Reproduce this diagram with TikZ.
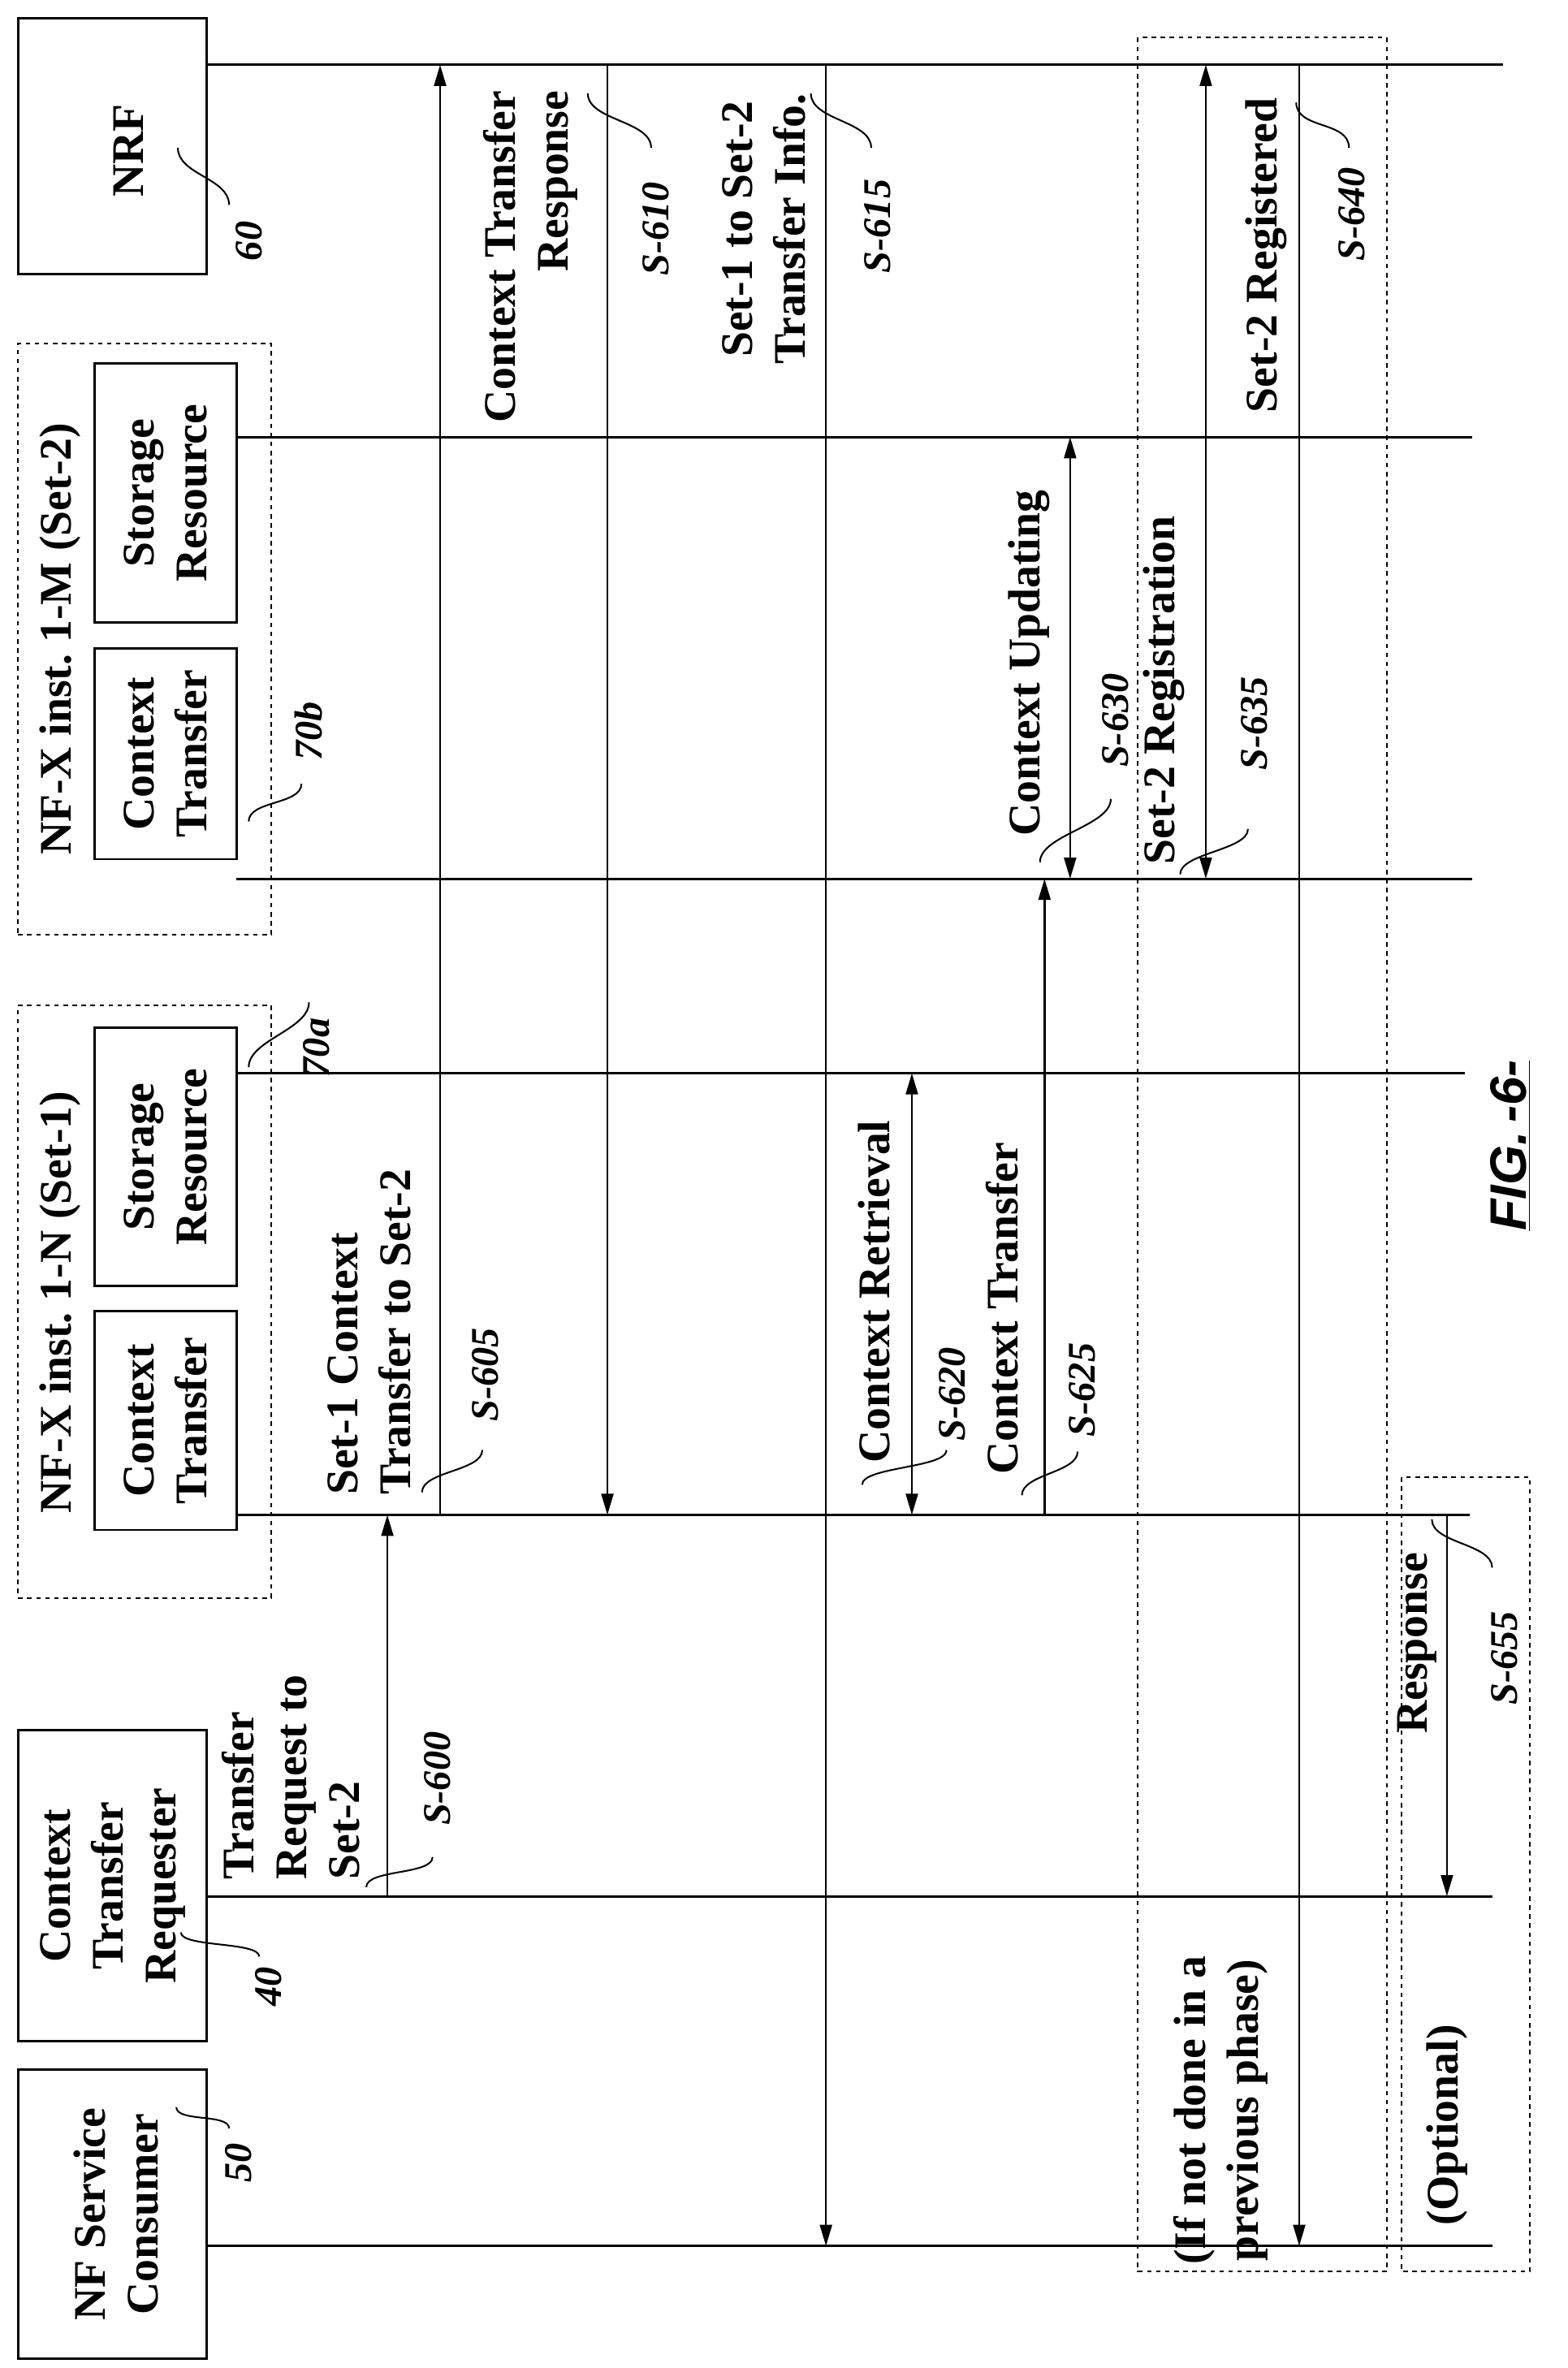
\documentclass[tikz,border=0pt]{standalone}
\usepackage{fontspec}
\setmainfont{Liberation Serif}
\setsansfont{Liberation Sans}
\usetikzlibrary{arrows.meta}
\tikzset{
  x=1pt,y=-1pt,
  every node/.style={font=\bfseries\fontsize{30}{35}\selectfont,inner sep=0pt},
  box/.style={draw,line width=1.6pt},
  grp/.style={draw,dashed,line width=1.1pt},
  life/.style={line width=1.6pt},
  msg/.style={line width=1.3pt,-{Triangle[length=14pt,width=8pt]}},
  dmsg/.style={line width=1.3pt,{Triangle[length=14pt,width=8pt]}-{Triangle[length=14pt,width=8pt]}},
  rot/.style={rotate=90},
  num/.style={rotate=90,font=\bfseries\itshape\fontsize{26}{30}\selectfont},
  leader/.style={line width=1.1pt}
}
\newcommand\ldr[3]{\draw[leader] #1 .. controls +(0,#3) and +(0,-#3) .. #2;}
\begin{document}
\begin{tikzpicture}
\useasboundingbox (0,0) rectangle (1040,1571);
% boxes
\node[box,minimum width=125pt,minimum height=170pt] (nrf) at (74.5,97) {};
\node[rot] (nrft) at (85,100) {NRF};
\node[grp,minimum width=168pt,minimum height=392pt] (g2) at (96,424) {};
\node[rot] (g2t) at (40,424) {NF-X inst.\ 1-M (Set-2)};
\node[box,minimum width=94pt,minimum height=172pt] (s2) at (110,327) {};
\node[rot,align=center] at (110,327) {Storage\\Resource};
\node[box,minimum width=94pt,minimum height=140pt] (c2) at (110,500) {};
\node[rot,align=center] at (110,500) {Context\\Transfer};
\node[grp,minimum width=168pt,minimum height=393pt] (g1) at (96,863.5) {};
\node[rot] (g1t) at (40,864) {NF-X inst.\ 1-N (Set-1)};
\node[box,minimum width=94pt,minimum height=171pt] (s1) at (110,767.5) {};
\node[rot,align=center] at (110,767.5) {Storage\\Resource};
\node[box,minimum width=94pt,minimum height=145pt] (c1) at (110,942.5) {};
\node[rot,align=center] at (110,942.5) {Context\\Transfer};
\node[box,minimum width=125pt,minimum height=206pt] (req) at (74.5,1251) {};
\node[rot,align=center] at (75,1251) {Context\\Transfer\\Requester};
\node[box,minimum width=125pt,minimum height=192pt] (con) at (74.5,1469) {};
\node[rot,align=center] at (77,1469) {NF Service\\Consumer};
% lifeline coordinates
\coordinate (Lnrf) at (137,43);   \coordinate (Rnrf) at (997,43);
\coordinate (Ls2) at (157,290);   \coordinate (Rs2) at (977,290);
\coordinate (Lc2) at (157,583);   \coordinate (Rc2) at (977,583);
\coordinate (Ls1) at (157,712);   \coordinate (Rs1) at (972,712);
\coordinate (Lc1) at (157,1005);  \coordinate (Rc1) at (975,1005);
\coordinate (Lrq) at (137,1258);  \coordinate (Rrq) at (990,1258);
\coordinate (Lcn) at (137,1490);  \coordinate (Rcn) at (990,1490);
\foreach \n in {nrf,s2,c2,s1,c1,rq,cn}{\draw[life] (L\n) -- (R\n);}
% phase boxes
\draw[grp] (755,25) rectangle (920,1507);
\draw[grp] (930,980) rectangle (1015,1507);
% messages
\draw[msg] (257,1258) -- (257,1005);
\draw[msg] (292,1005) -- (292,43);
\draw[msg] (403,43) -- (403,1005);
\draw[msg] (548,43) -- (548,1490);
\draw[dmsg] (605,712) -- (605,1005);
\draw[msg] (693,1005) -- (693,583);
\draw[dmsg] (710,290) -- (710,583);
\draw[dmsg] (800,43) -- (800,583);
\draw[msg] (862,43) -- (862,1490);
\draw[msg] (960,1005) -- (960,1258);
% labels
\node[rot,align=left,anchor=west] at (193,1247) {Transfer\\Request to\\Set-2};
\node[rot,align=left,anchor=west] at (245,992) {Set-1 Context\\Transfer to Set-2};
\node[rot,align=right,anchor=east] at (352,60) {Context Transfer\\Response};
\node[rot,align=center] at (507,152) {Set-1 to Set-2\\Transfer Info.};
\node[rot] at (580,857) {Context Retrieval};
\node[rot] at (665,868) {Context Transfer};
\node[rot] at (683,440) {Context Updating};
\node[rot] at (772,458) {Set-2 Registration};
\node[rot,anchor=east] at (840,65) {Set-2 Registered};
\node[rot] at (940,1090) {Response};
\node[rot,align=center] at (810,1400) {(If not done in a\\previous phase)};
\node[rot] at (960,1410) {(Optional)};
% numbers
\node[num] at (165,160) {60};
\node[num] at (205,485) {70b};
\node[num] at (210,695) {70a};
\node[num] at (178,1318) {40};
\node[num] at (158,1435) {50};
\node[num] at (290,1180) {S-600};
\node[num] at (322,912) {S-605};
\node[num] at (435,152) {S-610};
\node[num] at (582,150) {S-615};
\node[num] at (632,925) {S-620};
\node[num] at (718,922) {S-625};
\node[num] at (740,478) {S-630};
\node[num] at (832,480) {S-635};
\node[num] at (897,142) {S-640};
\node[num] at (998,1100) {S-655};
% leaders
\ldr{(118,98)}{(152,136)}{18}
\ldr{(165,545)}{(200,520)}{-14}
\ldr{(165,708)}{(205,665)}{-18}
\ldr{(120,1282)}{(172,1298)}{10}
\ldr{(117,1398)}{(152,1412)}{10}
\ldr{(243,1252)}{(287,1232)}{-12}
\ldr{(280,990)}{(320,962)}{-14}
\ldr{(390,62)}{(432,98)}{18}
\ldr{(538,62)}{(578,98)}{18}
\ldr{(572,985)}{(628,962)}{-12}
\ldr{(678,992)}{(715,963)}{-14}
\ldr{(690,572)}{(737,530)}{-18}
\ldr{(783,580)}{(828,550)}{-14}
\ldr{(860,68)}{(895,98)}{18}
\ldr{(950,1008)}{(990,1040)}{16}
% figure caption
\node[rotate=90,font=\sffamily\bfseries\itshape\fontsize{34}{40}\selectfont] (fig) at (1002,760) {\underline{FIG.\,-6-}};
\end{tikzpicture}
\end{document}
